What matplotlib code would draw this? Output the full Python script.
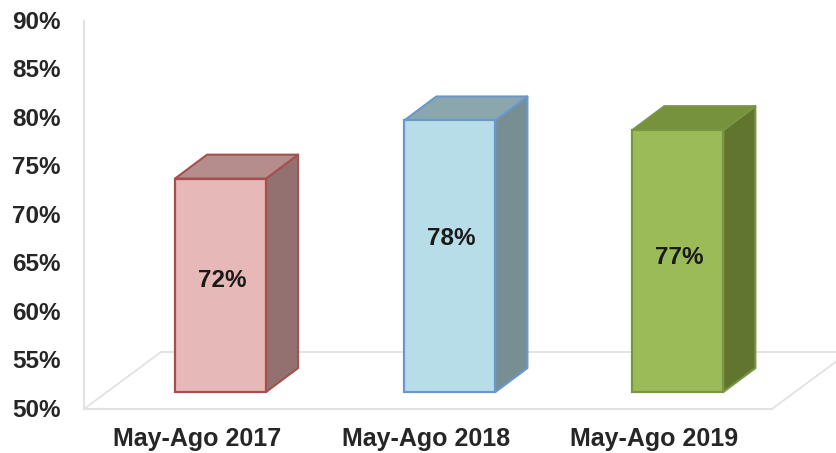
import matplotlib
matplotlib.use('Agg')
import matplotlib.pyplot as plt
from matplotlib.patches import Polygon
from matplotlib.transforms import ScaledTranslation

plt.rcParams['font.family'] = ['Liberation Sans', 'DejaVu Sans']

periods = ['May-Ago 2017', 'May-Ago 2018', 'May-Ago 2019']
values = [72, 78, 77]
y_ticks = [50, 55, 60, 65, 70, 75, 80, 85, 90]

front_colors = ['#E6B8B7', '#B7DEE8', '#9BBB59']
edge_colors = ['#A5504E', '#6A97CC', '#7A9645']
side_colors = ['#937170', '#778F93', '#62752F']
top_colors = ['#B58D8C', '#89A7AD', '#76923C']

W, H = 836, 453
fig = plt.figure(figsize=(W / 100, H / 100), dpi=100)
# axes box is the front plane of the 3d chart, in pixels of the picture
ax = fig.add_axes([84 / W, 1 - 409 / H, (772 - 84) / W, (409 - 21) / H])
ax.set_xlim(-0.5, 2.5)
ax.set_ylim(50, 90)

# fake 3d offsets, in data units
floor_dx, floor_dy = 0.336, 5.88
bar_dx, bar_dy = 0.14, 2.47
bar_w = 0.397
bar_shift = 0.095
lift = 1.75
bar_pos = [0, 1, 1.994]
tick_pos = [-0.007, 0.992, 1.986]
# labels are not centred on the bars in the original
label_drop = [0.5, 1.85, 0.4]

grey = '#E2E2E2'
xend = 2.5 + floor_dx
ax.plot([-0.5, -0.5 + floor_dx], [50, 50 + floor_dy], color=grey, lw=1.3, clip_on=False, zorder=1)
ax.plot([-0.5 + floor_dx, xend], [50 + floor_dy, 50 + floor_dy], color=grey, lw=1.3, clip_on=False, zorder=1)
ax.plot([2.5, xend], [50, 50 + floor_dy], color=grey, lw=1.3, clip_on=False, zorder=1)

for i, v in enumerate(values):
    x0 = bar_pos[i] + bar_shift - bar_w / 2
    x1 = x0 + bar_w
    y0 = 50 + lift
    y1 = v + lift
    kw = dict(edgecolor=edge_colors[i], lw=1.5, joinstyle='round', clip_on=False, zorder=3)
    ax.bar(x0, y1 - y0, width=bar_w, bottom=y0, align='edge', color=front_colors[i],
           edgecolor=edge_colors[i], lw=1.6, zorder=4, clip_on=False)
    ax.add_patch(Polygon([(x1, y0), (x1 + bar_dx, y0 + bar_dy), (x1 + bar_dx, y1 + bar_dy), (x1, y1)],
                         facecolor=side_colors[i], **kw))
    ax.add_patch(Polygon([(x0, y1), (x0 + bar_dx, y1 + bar_dy), (x1 + bar_dx, y1 + bar_dy), (x1, y1)],
                         facecolor=top_colors[i], **kw))
    ax.text(bar_pos[i] + bar_shift + 0.006, (y0 + y1) / 2 + label_drop[i], '%d%%' % v, ha='center', va='center',
            fontsize=17.5, fontweight='bold', color='#1A1A1A', zorder=5)

ax.set_xticks(tick_pos)
ax.set_xticklabels(periods, fontsize=18, fontweight='bold', color='#262626')
ax.set_yticks(y_ticks)
ax.set_yticklabels(['%d%%' % t for t in y_ticks], fontsize=17.5, fontweight='bold', color='#262626')
ax.tick_params(axis='both', length=0)
ax.tick_params(axis='y', pad=17)
ax.tick_params(axis='x', pad=13)

# tick labels sit a pixel higher in the original
up = ScaledTranslation(0, 1 / 100, fig.dpi_scale_trans)
for lab in ax.get_yticklabels():
    lab.set_transform(lab.get_transform() + up)

for s in ['top', 'right']:
    ax.spines[s].set_visible(False)
for s in ['left', 'bottom']:
    ax.spines[s].set_color(grey)
    ax.spines[s].set_linewidth(1.5)

fig.savefig('out.png', dpi=100)
